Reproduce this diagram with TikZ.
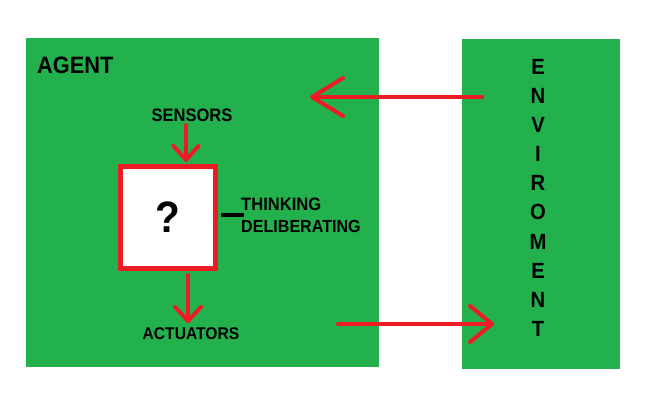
\documentclass[tikz,border=0pt]{standalone}
\usepackage{fontspec}
\setmainfont{Liberation Sans}
\newfontfamily\din[FakeStretch=0.92]{Liberation Sans}
\usetikzlibrary{arrows.meta}
\definecolor{pgreen}{HTML}{22B14C}
\definecolor{pred}{HTML}{ED1C24}
\begin{document}
\begin{tikzpicture}[x=1pt,y=-1pt,
  lbl/.style={inner sep=0pt,font=\din\bfseries\fontsize{#1}{#1}\selectfont},
  lbl/.default=18,
  redarrow/.style={draw=pred,line width=4pt,line cap=round},
  blackline/.style={draw=black,line width=4pt}]
\useasboundingbox (0,0) rectangle (647,403);
\fill[white] (0,0) rectangle (647,403);
% boxes
\node[fill=pgreen,minimum width=353pt,minimum height=329pt,inner sep=0pt] (agent) at (202.5,202.5) {};
\node[fill=pgreen,minimum width=158pt,minimum height=330pt,inner sep=0pt] (env) at (541,204) {};
\node[draw=pred,fill=white,line width=5pt,minimum width=95pt,minimum height=102pt,inner sep=0pt,
  font=\din\bfseries\fontsize{44}{44}\selectfont] (q) at (168,217.5) {?};
% labels
\node[lbl=23.7,anchor=base west] (agentlbl) at (37,74) {AGENT};
\node[lbl=18,anchor=base] (sensors) at (192,122) {SENSORS};
\node[lbl=18,anchor=base west] (thinking) at (241,211) {THINKING};
\node[lbl=17.5,anchor=base west] (delib) at (241,233) {DELIBERATING};
\node[lbl=17,anchor=base] (act) at (191,339) {ACTUATORS};
\foreach \ch [count=\i from 0] in {E,N,V,I,R,O,M,E,N,T}{
  \node[lbl=22,anchor=base] (env\i) at (538,75+29*\i) {\ch};
}
% coordinates
\coordinate (upstart) at (482,97);
\coordinate (uptip) at (310,97);
\coordinate (lowstart) at (338,324);
\coordinate (lowtip) at (494,324);
\coordinate (sstart) at (186,125);
\coordinate (stip) at (186,162);
\coordinate (astart) at (188,275);
\coordinate (atip) at (188,323);
\coordinate (dashend) at (244,215);
% connectors
\draw[redarrow,-{Straight Barb[length=31pt,width=38pt,round]}] (upstart) -- (uptip);
\draw[redarrow,-{Straight Barb[length=22pt,width=36pt,round]}] (lowstart) -- (lowtip);
\draw[redarrow,-{Straight Barb[length=14pt,width=25pt,round]}] (sstart) -- (stip);
\draw[redarrow,-{Straight Barb[length=14pt,width=26pt,round]}] (astart) -- (atip);
\draw[blackline] (q.east |- dashend) ++(2.5,0) -- (dashend);
\end{tikzpicture}
\end{document}
